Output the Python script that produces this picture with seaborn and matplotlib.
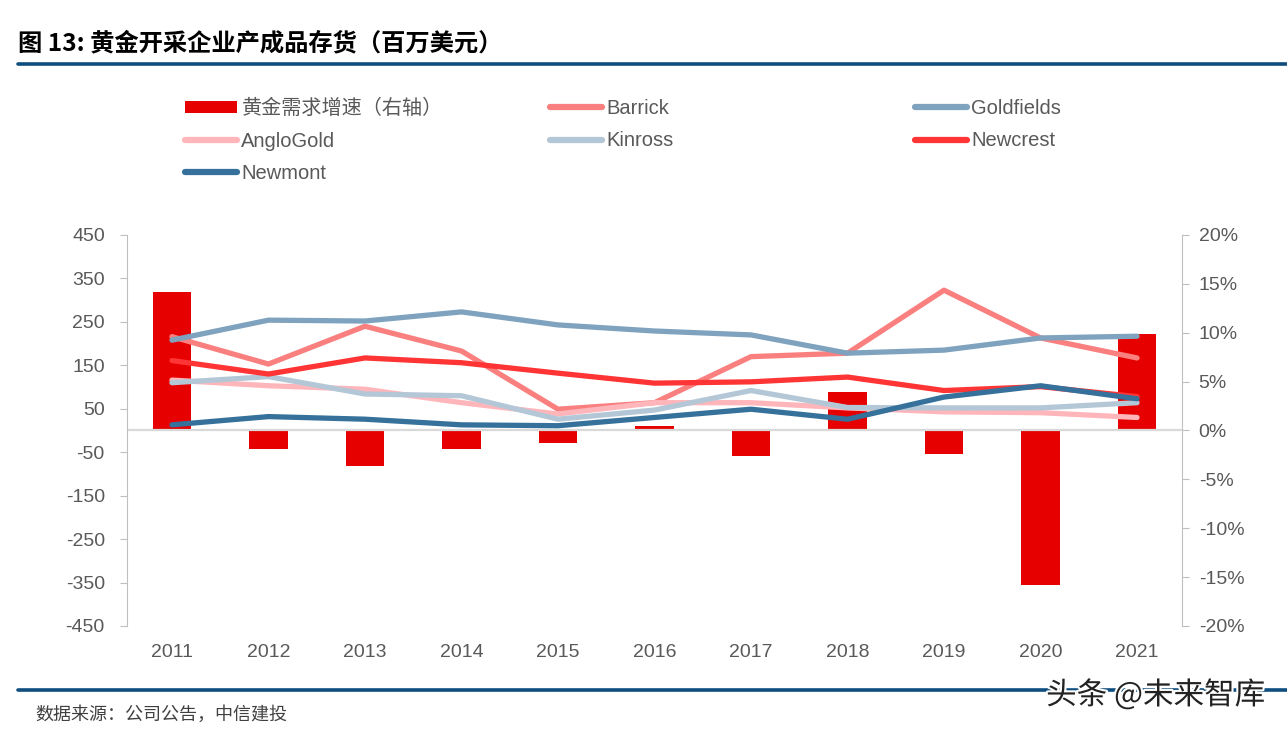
import numpy as np
import pandas as pd
import matplotlib
matplotlib.use('Agg')
import matplotlib.pyplot as plt
from matplotlib.lines import Line2D
from matplotlib.patches import Patch
import matplotlib.patheffects as pe
import seaborn as sns

# data
years = [2011, 2012, 2013, 2014, 2015, 2016, 2017, 2018, 2019, 2020, 2021]
gold_demand_growth = [14.2, -1.9, -3.6, -1.9, -1.3, 0.45, -2.6, 3.9, -2.4, -15.8, 9.9]  # %, right axis
barrick = [216, 153, 240, 183, 49, 64, 170, 178, 323, 213, 167]
goldfields = [208, 254, 252, 273, 243, 229, 220, 178, 185, 213, 217]
anglogold = [116, 103, 95, 64, 38, 64, 64, 52, 43, 41, 30]
kinross = [110, 124, 84, 80, 26, 47, 92, 53, 52, 52, 64]
newcrest = [161, 130, 167, 156, 132, 109, 112, 123, 92, 101, 78]
newmont = [13, 32, 26, 13, 11, 30, 49, 26, 77, 103, 73]

left_ticks = [-450, -350, -250, -150, -50, 50, 150, 250, 350, 450]
right_ticks = [-20, -15, -10, -5, 0, 5, 10, 15, 20]

series = {
    'Barrick': (barrick, '#FA8080'),
    'Goldfields': (goldfields, '#7FA3BE'),
    'AngloGold': (anglogold, '#FFB6BB'),
    'Kinross': (kinross, '#B4C7D7'),
    'Newcrest': (newcrest, '#FF3434'),
    'Newmont': (newmont, '#35719A'),
}
bar_color = '#E60000'

sns.set_style('white')
plt.rcParams['font.family'] = ['Liberation Sans', 'Noto Sans CJK SC', 'DejaVu Sans']
plt.rcParams['axes.unicode_minus'] = False

W, H = 1287, 736
fig = plt.figure(figsize=(W / 100, H / 100), dpi=100)
ax = fig.add_axes([127 / W, 1 - 626 / H, (1182 - 127) / W, (626 - 235) / H])
ax2 = ax.twinx()
ax.set_zorder(2)
ax2.set_zorder(1)
ax.patch.set_visible(False)

# bars on the right axis
sns.barplot(x=years, y=gold_demand_growth, native_scale=True, color=bar_color,
            saturation=1, width=0.4, ax=ax2, edgecolor='none')
ax2.axhline(0, color='#D9D9D9', lw=1.6, zorder=5)

# lines on the left axis
for name, (vals, col) in series.items():
    sns.lineplot(x=years, y=vals, ax=ax, color=col, linewidth=3.8,
                 solid_capstyle='round', solid_joinstyle='round')

ax.set_xlim(2010.534, 2021.466)
ax.set_ylim(-450, 450)
ax2.set_ylim(-20, 20)
ax.set_yticks(left_ticks)
ax.set_yticklabels([str(t) for t in left_ticks])
ax2.set_yticks(right_ticks)
ax2.set_yticklabels([f'{t}%' for t in right_ticks])
ax.set_xticks(years)
ax.set_xticklabels([str(y) for y in years])

for a in (ax, ax2):
    for s in a.spines.values():
        s.set_visible(False)
    a.set_xlabel('')
    a.set_ylabel('')
ax.spines['left'].set_visible(True)
ax.spines['left'].set_color('#BFBFBF')
ax2.spines['right'].set_visible(True)
ax2.spines['right'].set_color('#BFBFBF')

ax.tick_params(axis='y', left=True, length=5, color='#BFBFBF', labelsize=14,
               labelcolor='#595959', pad=11)
ax2.tick_params(axis='y', right=True, length=5, color='#BFBFBF', labelsize=14,
                labelcolor='#595959', pad=7)
ax.tick_params(axis='x', length=0, labelsize=14, labelcolor='#595959', pad=13)

# legend, three columns placed like the original
def line_handle(name):
    return Line2D([], [], color=series[name][1], lw=4.5, solid_capstyle='round')

cols = [
    ([Patch(facecolor=bar_color, edgecolor='none'), line_handle('AngloGold'), line_handle('Newmont')],
     ['黄金需求增速（右轴）', 'AngloGold', 'Newmont'], 185),
    ([line_handle('Barrick'), line_handle('Kinross')], ['Barrick', 'Kinross'], 550),
    ([line_handle('Goldfields'), line_handle('Newcrest')], ['Goldfields', 'Newcrest'], 915),
]
for handles, labels, xpos in cols:
    leg = fig.legend(handles, labels, loc='upper left', bbox_to_anchor=(xpos / W, 1 - 99 / H),
                     frameon=False, fontsize=14.5, handlelength=2.6, handleheight=0.55,
                     handletextpad=0.2, labelspacing=0.66, borderpad=0, borderaxespad=0)
    for t in leg.get_texts():
        t.set_color('#595959')

# title, rules and footer
fig.text(18 / W, 1 - 43 / H, '图 13: 黄金开采企业产成品存货（百万美元）', fontsize=17.5,
         fontweight='bold', va='center', ha='left', color='black',
         family=['Noto Sans CJK SC', 'DejaVu Sans'])
fig.add_artist(Line2D([18 / W, 1], [1 - 64 / H, 1 - 64 / H], color='#0E4D7E', lw=2.6))
fig.add_artist(Line2D([18 / W, 1], [1 - 690 / H, 1 - 690 / H], color='#0E4D7E', lw=2.6))
fig.text(35 / W, 1 - 715 / H, '数据来源：公司公告，中信建投', fontsize=13, va='center',
         ha='left', color='#404040', style='italic',
         family=['Noto Sans CJK SC', 'DejaVu Sans'])
fig.text(1265 / W, 1 - 695 / H, '头条 @未来智库', fontsize=22, va='center', ha='right',
         color='#222222', family=['Noto Sans CJK SC', 'DejaVu Sans'],
         path_effects=[pe.withStroke(linewidth=3, foreground='white')])

fig.savefig('out.png', dpi=100)
